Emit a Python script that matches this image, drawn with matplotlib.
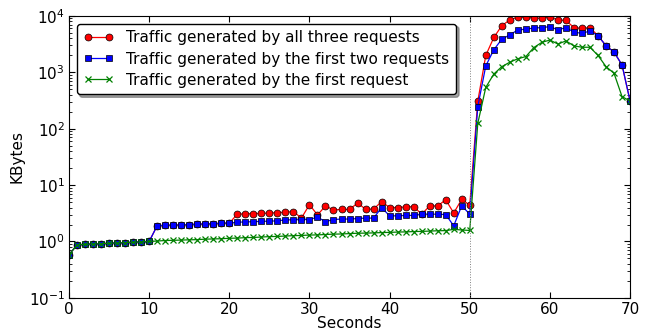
import matplotlib
matplotlib.use("Agg")
import matplotlib.pyplot as plt

seconds = list(range(0, 71))

# first request (green)
first = [0.58, 0.87, 0.89, 0.90, 0.91, 0.93, 0.94, 0.95, 0.97, 0.98, 1.0,
         1.02, 1.04, 1.05, 1.06, 1.07, 1.08, 1.10, 1.11, 1.12, 1.14,
         1.15, 1.17, 1.18, 1.20, 1.22, 1.23, 1.25, 1.27, 1.28, 1.30,
         1.31, 1.33, 1.35, 1.36, 1.38, 1.40, 1.41, 1.42, 1.44, 1.45,
         1.47, 1.48, 1.50, 1.51, 1.53, 1.55, 1.56, 1.64, 1.60, 1.57,
         124, 540, 930, 1260, 1510, 1740, 1900, 2750, 3400, 3730,
         3170, 3600, 2940, 2780, 2780, 1990, 1260, 960, 370, 310]

# first two requests (blue)
first_two = [0.58, 0.87, 0.89, 0.90, 0.91, 0.93, 0.94, 0.95, 0.97, 0.98, 1.0,
             1.90, 1.93, 1.95, 1.97, 2.0, 2.02, 2.05, 2.07, 2.10, 2.12,
             2.20, 2.22, 2.25, 2.27, 2.30, 2.32, 2.42, 2.42, 2.45, 2.45,
             2.70, 2.25, 2.45, 2.50, 2.50, 2.55, 2.60, 2.60, 4.0, 2.85,
             2.85, 2.90, 2.90, 3.05, 3.05, 3.05, 3.0, 1.90, 4.3, 3.05,
             246, 1300, 2500, 3870, 4600, 5650, 5800, 6100, 6200, 6450,
             5650, 6200, 5150, 4900, 5400, 4450, 2960, 2280, 1350, 310]

# all three requests (red)
all_three = [0.58, 0.87, 0.89, 0.90, 0.91, 0.93, 0.94, 0.95, 0.97, 0.98, 1.0,
             1.90, 1.93, 1.95, 1.97, 2.0, 2.02, 2.05, 2.07, 2.10, 2.12,
             3.05, 3.10, 3.12, 3.15, 3.20, 3.25, 3.30, 3.40, 2.60, 4.5,
             2.96, 4.27, 3.63, 3.70, 3.70, 4.8, 3.75, 3.75, 5.1, 4.0,
             4.0, 4.1, 4.15, 3.05, 4.27, 4.27, 5.5, 3.2, 5.6, 4.4,
             305, 1990, 4140, 6700, 8500, 9500, 9500, 9100, 9100, 9500,
             8500, 8300, 6200, 6000, 6200, 4450, 2960, 2280, 1350, 310]

labels = ["Traffic generated by all three requests",
          "Traffic generated by the first two requests",
          "Traffic generated by the first request"]

plt.rcParams['font.size'] = 11
fig = plt.figure(figsize=(6.57, 3.31), dpi=100)
ax = fig.add_axes([0.105, 0.10, 0.854, 0.852])

ax.plot(seconds, all_three, 'r-o', lw=0.9, ms=5, mec='k', mew=0.5, label=labels[0])
ax.plot(seconds, first_two, 'b-s', lw=0.9, ms=5, mec='k', mew=0.5, label=labels[1])
ax.plot(seconds, first, 'g-x', lw=0.9, ms=5, mew=0.9, label=labels[2])
ax.axvline(50, color='gray', ls=':', lw=0.7)

ax.set_yscale('log')
ax.set_xlim(0, 70)
ax.set_ylim(0.1, 10000)
ax.set_xlabel("Seconds", labelpad=-1)
ax.set_ylabel("KBytes", labelpad=3)
ax.tick_params(which='both', direction='in', top=True, right=True)
ax.tick_params(which='major', length=4, pad=3)
ax.tick_params(which='minor', length=2)

leg = ax.legend(loc='upper left', numpoints=2, fancybox=True, shadow=True,
                framealpha=1, edgecolor='k', handlelength=2.0,
                borderaxespad=0.5, labelspacing=0.4, borderpad=0.45)
leg.get_frame().set_linewidth(1)

fig.savefig("out.png", dpi=100)
